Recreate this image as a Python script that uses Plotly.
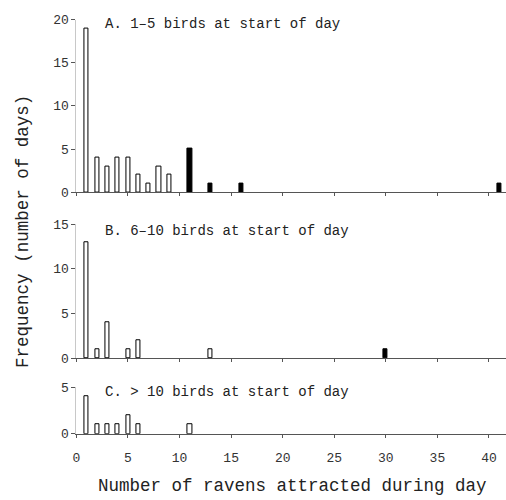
import plotly.graph_objects as go

# Panel A: 1-5 birds at start of day
a_open_x = [1, 2, 3, 4, 5, 6, 7, 8, 9]
a_open_y = [19, 4, 3, 4, 4, 2, 1, 3, 2]
a_solid_x = [11, 13, 16, 41]
a_solid_y = [5, 1, 1, 1]

# Panel B: 6-10 birds at start of day
b_open_x = [1, 2, 3, 5, 6, 13]
b_open_y = [13, 1, 4, 1, 2, 1]
b_solid_x = [30]
b_solid_y = [1]

# Panel C: > 10 birds at start of day
c_open_x = [1, 2, 3, 4, 5, 6, 11]
c_open_y = [4, 1, 1, 1, 2, 1, 1]

titles = ["A. 1\u20135 birds at start of day",
          "B. 6\u201310 birds at start of day",
          "C. > 10 birds at start of day"]
x_ticks = [0, 5, 10, 15, 20, 25, 30, 35, 40]

FONT = "Liberation Mono"
W, H = 506, 500
BW = 0.4

fig = go.Figure()

def add_bars(x, y, solid, axis):
    fig.add_trace(go.Bar(
        x=x, y=y, width=BW,
        marker=dict(color="black" if solid else "white",
                    line=dict(color="black", width=1)),
        xaxis="x" + axis, yaxis="y" + axis, showlegend=False))

add_bars(a_open_x, a_open_y, False, "")
add_bars(a_solid_x, a_solid_y, True, "")
add_bars(b_open_x, b_open_y, False, "2")
add_bars(b_solid_x, b_solid_y, True, "2")
add_bars(c_open_x, c_open_y, False, "3")

def py(p):
    return 1 - p / H

xdom = [73 / W, 1.0]
xrange = [0, 41.65]

common_x = dict(range=xrange, domain=xdom, showline=True, linecolor="#555",
                linewidth=1, ticks="outside", ticklen=3, tickcolor="#555",
                tickvals=x_ticks, showgrid=False, zeroline=False,
                tickfont=dict(family=FONT, size=13, color="#333"))
common_y = dict(showline=True, linecolor="#c8c8c8", linewidth=1,
                ticks="outside", ticklen=4, tickcolor="#555",
                showgrid=False, zeroline=False,
                tickfont=dict(family=FONT, size=13, color="#333"))

fig.update_layout(
    width=W, height=H,
    margin=dict(l=0, r=0, t=0, b=0),
    paper_bgcolor="white", plot_bgcolor="white",
    bargap=0,
    xaxis=dict(common_x, anchor="y", showticklabels=False),
    yaxis=dict(common_y, anchor="x", domain=[py(192), py(14)], range=[0, 20],
               tickvals=[0, 5, 10, 15, 20]),
    xaxis2=dict(common_x, anchor="y2", showticklabels=False),
    yaxis2=dict(common_y, anchor="x2", domain=[py(363), py(225)], range=[0, 15],
                tickvals=[0, 5, 10, 15]),
    xaxis3=dict(common_x, anchor="y3", showticklabels=True, ticklabelstandoff=9),
    yaxis3=dict(common_y, anchor="x3", domain=[py(441), py(393)], range=[0, 5],
                tickvals=[0, 5]),
)

ann = []
for t, yp in zip(titles, [19, 232, 398]):
    ann.append(dict(text=t, x=100 / W, y=py(yp), xref="paper", yref="paper",
                    xanchor="left", yanchor="middle", showarrow=False,
                    font=dict(family=FONT, size=14, color="#222")))
ann.append(dict(text="Number of ravens attracted during day", x=291 / W, y=py(495),
                xref="paper", yref="paper", xanchor="center", yanchor="middle",
                showarrow=False, font=dict(family=FONT, size=17.5, color="#222")))
ann.append(dict(text="Frequency (number of days)", x=19 / W, y=py(232),
                xref="paper", yref="paper", xanchor="center", yanchor="middle",
                textangle=-90, showarrow=False,
                font=dict(family=FONT, size=17.5, color="#222")))
fig.update_layout(annotations=ann)

fig.write_html("out.html")
